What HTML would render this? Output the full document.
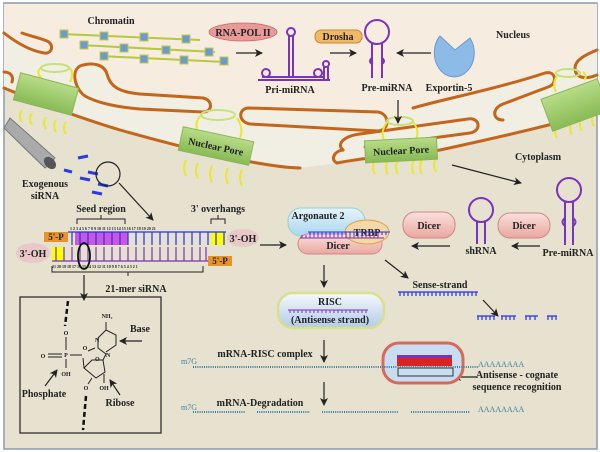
<!DOCTYPE html>
<html><head><meta charset="utf-8"><style>
html,body{margin:0;padding:0;background:#fff}
svg{display:block}
text{font-family:"Liberation Serif",serif;font-weight:bold;fill:#222}
</style></head><body>
<svg width="600" height="452" viewBox="0 0 600 452" xmlns="http://www.w3.org/2000/svg">
<defs>
<marker id="ar" markerWidth="8" markerHeight="8" refX="7" refY="4" orient="auto" markerUnits="userSpaceOnUse"><path d="M0,0 L8,4 L0,8 L2,4 Z" fill="#222"/></marker>
<linearGradient id="ago" x1="0" y1="0" x2="0" y2="1"><stop offset="0" stop-color="#e6f4fb"/><stop offset="1" stop-color="#a9d6ee"/></linearGradient>
<linearGradient id="pk" x1="0" y1="0" x2="0" y2="1"><stop offset="0" stop-color="#fbe0dc"/><stop offset="1" stop-color="#e9a7a0"/></linearGradient>
<linearGradient id="risc" x1="0" y1="0" x2="0" y2="1"><stop offset="0" stop-color="#f4f8fc"/><stop offset="1" stop-color="#b4cbe8"/></linearGradient>
<linearGradient id="gr" x1="0" y1="0" x2="0" y2="1"><stop offset="0" stop-color="#b8dc88"/><stop offset="1" stop-color="#88bb55"/></linearGradient>
</defs>
<rect x="0" y="0" width="600" height="452" fill="#fff"/>
<rect x="4" y="3" width="593" height="446" fill="#e6e2cf" stroke="#8a9bb0" stroke-width="1.5"/>
<!-- envelope band -->
<path d="M4,4 L597,4 L597,112 C560,123 500,137 440,150 C400,155 367,157 337,163 L300,168 C260,167 180,147 120,130 C80,118 40,103 4,88 Z" fill="#f1eee4"/>
<!-- nucleus -->
<path d="M4,4 L597,4 L597,50 C585,52 560,66 548,72 L470,95 C440,100 420,104 410,110 L395,118 L380,112 L300,110 L250,108 L212,105 L203,98 L140,94 C118,92 110,86 107,74 C104,64 92,62 80,66 C60,62 40,55 4,32 Z" fill="#f7ece0"/>
<!-- membranes -->
<g fill="none" stroke="#c4651c" stroke-width="3" stroke-linecap="round">
<path d="M4,33 C18,44 32,51 44,53 C53,54 54,44 47,41 C40,38 30,36 22,33"/>
<path d="M80,66 C92,62 104,64 107,74 C110,86 118,92 140,94 L203,98 C213,100 213,112 203,112 L140,109 C115,107 95,102 85,96 C76,90 70,72 80,66 Z"/>
<path d="M4,72 C10,72 14,76 12,82"/>
<path d="M248,108 L378,112 C390,114 390,130 378,131 L250,124 C238,122 238,109 248,108 Z"/>
<path d="M413,108 C440,100 500,88 545,73 C556,70 558,84 548,87 L503,104 C492,108 492,120 503,120"/>
<path d="M343,150 C336,144 344,136 360,134 L468,119 C480,117 482,131 470,133 L365,147"/>
<path d="M597,50 C585,55 575,60 575,68 C575,78 585,80 597,75"/>
<path d="M4,88 C40,103 80,118 120,130 C180,147 260,167 300,168"/>
<path d="M337,163 C367,157 400,155 440,150 C500,137 560,123 597,112"/>
<path d="M337,163 C330,160 334,151 343,150"/>
</g>
<!-- nuclear pores: tentacles -->
<g stroke="#e8e830" stroke-width="2" fill="none">
<path d="M22,110 q-4,6 0,12"/><path d="M32,113 q-4,6 0,12"/><path d="M46,117 q-4,6 0,12"/><path d="M56,120 q-4,6 0,12"/><path d="M66,122 q-4,6 0,12"/>
<path d="M42,78 q-6,-4 -2,-10"/><path d="M70,82 q4,-8 0,-14"/>
<path d="M186,160 q-4,8 0,16"/><path d="M198,163 q-4,8 0,16"/><path d="M212,166 q-4,8 0,16"/><path d="M228,168 q-4,8 0,16"/><path d="M242,170 q-4,8 0,16"/>
<path d="M198,132 q-4,-8 2,-16"/><path d="M240,138 q4,-10 -3,-20"/>
<path d="M375,160 q-4,7 0,14"/><path d="M388,160 q-4,7 0,14"/><path d="M398,160 q-4,7 0,14"/><path d="M414,160 q-4,7 0,14"/><path d="M422,160 q-4,7 0,14"/><path d="M436,158 q-4,7 0,14"/>
<path d="M384,140 q-4,-8 3,-18"/><path d="M416,139 q4,-8 -3,-17"/>
<path d="M557,124 q-4,7 0,14"/><path d="M572,120 q-4,7 0,14"/><path d="M582,117 q-4,7 0,14"/><path d="M594,112 q-4,7 0,14"/>
<path d="M556,92 q-4,-8 1,-16"/><path d="M584,80 q4,-4 -1,-8"/>
</g>
<g stroke="#c8e07a" stroke-width="2" fill="none">
<ellipse cx="55" cy="68" rx="14" ry="4"/>
<ellipse cx="218" cy="115" rx="17" ry="5"/>
<ellipse cx="400" cy="121" rx="13" ry="4"/>
<ellipse cx="568" cy="73" rx="12" ry="4"/>
</g>
<g stroke="#8db45a" stroke-width="1" fill="url(#gr)">
<rect x="16" y="80" width="60" height="28" transform="rotate(15 46 94)"/>
<rect x="180" y="134" width="72" height="24" transform="rotate(12 216 146)"/>
<rect x="365" y="139" width="72" height="22" transform="rotate(-3 401 150)"/>
<rect x="545" y="88" width="60" height="34" transform="rotate(-20 575 105)"/>
</g>
<text x="216" y="150" font-size="10" transform="rotate(12 216 146)" text-anchor="middle">Nuclear Pore</text>
<text x="401" y="154" font-size="10" transform="rotate(-3 401 150)" text-anchor="middle">Nuclear Pore</text>
<!-- chromatin -->
<g stroke="#b5c93a" stroke-width="2" fill="none">
<path d="M62,34 L200,40"/><path d="M80,45 L215,52"/><path d="M100,56 L225,62"/>
</g>
<g fill="#6a9ad0" stroke="#c9c940" stroke-width="1">
<rect x="60" y="30" width="8" height="8"/><rect x="100" y="32" width="8" height="8"/><rect x="140" y="33" width="8" height="8"/><rect x="182" y="35" width="8" height="8"/>
<rect x="80" y="41" width="8" height="8"/><rect x="120" y="44" width="8" height="8"/><rect x="162" y="46" width="8" height="8"/><rect x="205" y="48" width="8" height="8"/>
<rect x="100" y="52" width="8" height="8"/><rect x="140" y="55" width="8" height="8"/><rect x="180" y="56" width="8" height="8"/><rect x="220" y="57" width="8" height="8"/>
</g>
<text x="111" y="24" font-size="10" text-anchor="middle">Chromatin</text>
<ellipse cx="243" cy="32" rx="34" ry="9" fill="#e89a9a" stroke="#c66" stroke-width="0.8"/>
<text x="243" y="36" font-size="10" text-anchor="middle" fill="#333">RNA-POL II</text>
<rect x="315" y="30" width="47" height="13" rx="6" fill="#f0b868" stroke="#c88830"/>
<text x="338" y="40" font-size="10" text-anchor="middle">Drosha</text>
<!-- pri-miRNA -->
<g stroke="#7a33bb" stroke-width="2" fill="none">
<circle cx="291" cy="32" r="4"/><path d="M289,36 L289,76 M293,36 L293,76 M258,80 L330,80 M262,77 L324,77"/>
<circle cx="266" cy="73" r="4"/><circle cx="318" cy="73" r="4"/><circle cx="326" cy="64" r="3"/><path d="M324,67 L324,80 M328,67 L328,80"/>
</g>
<!-- pre-miRNA -->
<g stroke="#7a33bb" stroke-width="2" fill="none">
<circle cx="377" cy="32" r="12"/><path d="M372,43 L372,78 M382,43 L382,78 M372,58 q-4,3 0,6 M382,58 q4,3 0,6"/>
</g>
<path d="M470,38 A20,24 0 1 1 440,36 L455,50 Z" fill="#8cbbe8" stroke="#6a9ad0"/>
<text x="513" y="38" font-size="10" text-anchor="middle">Nucleus</text>
<text x="290" y="93" font-size="10" text-anchor="middle">Pri-miRNA</text>
<text x="387" y="91" font-size="10" text-anchor="middle">Pre-miRNA</text>
<text x="449" y="91" font-size="10" text-anchor="middle">Exportin-5</text>
<g stroke="#222" stroke-width="1.2" fill="none" marker-end="url(#ar)">
<line x1="236" y1="53" x2="262" y2="53"/><line x1="330" y1="53" x2="356" y2="53"/><line x1="431" y1="53" x2="397" y2="53"/>
<line x1="398" y1="100" x2="398" y2="123"/><line x1="452" y1="165" x2="521" y2="183"/>
<line x1="119" y1="183" x2="153" y2="220"/><line x1="260" y1="245" x2="286" y2="245"/>
<line x1="450" y1="246" x2="412" y2="246"/><line x1="540" y1="246" x2="512" y2="246"/>
<line x1="324" y1="265" x2="324" y2="287"/><line x1="385" y1="260" x2="408" y2="278"/>
<line x1="483" y1="300" x2="498" y2="316"/><line x1="324" y1="340" x2="324" y2="362"/>
<line x1="324" y1="382" x2="324" y2="405"/><line x1="477" y1="377" x2="454" y2="377"/>
<line x1="84" y1="275" x2="84" y2="300"/>
<line x1="142" y1="341" x2="120" y2="341"/><line x1="45" y1="386" x2="57" y2="370"/><line x1="120" y1="395" x2="110" y2="380"/>
</g>
<text x="538" y="160" font-size="10" text-anchor="middle">Cytoplasm</text>
<!-- needle -->
<path d="M4,128 L45,168 L55,158 L10,118 Z" fill="#aaa" stroke="#777"/>
<ellipse cx="50" cy="163" rx="5" ry="7" fill="#555" transform="rotate(-45 50 163)"/>
<g stroke="#2a3be0" stroke-width="3">
<line x1="78" y1="158" x2="88" y2="156"/><line x1="64" y1="170" x2="72" y2="172"/><line x1="88" y1="172" x2="98" y2="174"/><line x1="80" y1="178" x2="90" y2="180"/><line x1="98" y1="184" x2="108" y2="186"/><line x1="92" y1="192" x2="102" y2="194"/>
</g>
<circle cx="108" cy="174" r="12" fill="none" stroke="#222" stroke-width="1.2"/>
<text x="45" y="187" font-size="10" text-anchor="middle">Exogenous</text>
<text x="45" y="199" font-size="10" text-anchor="middle">siRNA</text>
<text x="101" y="212" font-size="10" text-anchor="middle">Seed region</text>
<text x="218" y="212" font-size="10" text-anchor="middle">3' overhangs</text>
<path d="M77,224 L77,219 L125,219 L125,224 M101,219 L101,215" stroke="#222" fill="none"/>
<path d="M211,224 L211,219 L225,219 L225,224 M218,219 L218,215" stroke="#222" fill="none"/>
<!-- siRNA duplex -->
<g font-size="4" fill="#333"><text x="70" y="230">1 2 3 4 5 6 7 8 9 10 11 12 13 14 15 16 17 18 19 20 21</text><text x="52" y="268">21 20 19 18 17 16 15 14 13 12 11 10 9 8 7 6 5 4 3 2 1</text></g>
<rect x="75" y="232" width="53" height="13" fill="#cc55dd"/>
<rect x="211" y="232" width="14" height="13" fill="#ffff00"/>
<rect x="52" y="247" width="12" height="14" fill="#ffff00"/>
<g stroke="#2233ee" stroke-width="1.2">
<line x1="68" y1="232" x2="226" y2="232"/>
<path d="M72,232 v13 M80,232 v13 M88,232 v13 M96,232 v13 M104,232 v13 M112,232 v13 M120,232 v13 M128,232 v13 M136,232 v13 M144,232 v13 M152,232 v13 M160,232 v13 M168,232 v13 M176,232 v13 M184,232 v13 M192,232 v13 M200,232 v13 M208,232 v13 M216,232 v13 M224,232 v13"/>
</g>
<g stroke="#7a33bb" stroke-width="1.2">
<line x1="52" y1="261" x2="208" y2="261"/>
<path d="M56,247 v14 M64,247 v14 M72,247 v14 M80,247 v14 M88,247 v14 M96,247 v14 M104,247 v14 M112,247 v14 M120,247 v14 M128,247 v14 M136,247 v14 M144,247 v14 M152,247 v14 M160,247 v14 M168,247 v14 M176,247 v14 M184,247 v14 M192,247 v14 M200,247 v14 M206,247 v14"/>
</g>
<rect x="44" y="232" width="24" height="10" fill="#e8922a"/><text x="56" y="240" font-size="9" text-anchor="middle">5'-P</text>
<rect x="208" y="256" width="24" height="10" fill="#e8922a"/><text x="220" y="264" font-size="9" text-anchor="middle">5'-P</text>
<ellipse cx="243" cy="238" rx="16" ry="9" fill="#e8c8c8"/><text x="243" y="242" font-size="10" text-anchor="middle">3'-OH</text>
<ellipse cx="33" cy="253" rx="17" ry="10" fill="#e8c8c8"/><text x="33" y="257" font-size="10" text-anchor="middle">3'-OH</text>
<ellipse cx="84" cy="256" rx="6" ry="13" fill="none" stroke="#111" stroke-width="1.8"/>
<path d="M52,266 L52,272 L203,272 L203,266 M128,272 L128,276" stroke="#222" fill="none"/>
<text x="136" y="292" font-size="10" text-anchor="middle">21-mer siRNA</text>
<!-- chemistry box -->
<rect x="20" y="297" width="141" height="136" fill="none" stroke="#222" stroke-width="1.2"/>
<g stroke="#111" stroke-width="2.5" stroke-dasharray="5,3"><line x1="68" y1="301" x2="65" y2="326"/><line x1="86" y1="396" x2="83" y2="430"/></g>
<g stroke="#222" stroke-width="1" fill="none">
<line x1="66" y1="337" x2="66" y2="350"/><line x1="48" y1="354" x2="62" y2="354"/><line x1="48" y1="357" x2="62" y2="357"/>
<line x1="66" y1="359" x2="66" y2="368"/><line x1="70" y1="355" x2="82" y2="355"/><line x1="83" y1="358" x2="84" y2="368"/>
<path d="M84,368 L92,360 L103,360 L105,372 L96,378 Z"/><line x1="92" y1="378" x2="88" y2="384"/><line x1="104" y1="374" x2="104" y2="383"/>
<path d="M103,360 L106,354 M106,354 L98,348 L98,338 L106,330 L116,335 L116,345 L106,352 M95,348 L88,351 M106,330 L106,322"/>
</g>
<g font-size="6" font-family="Liberation Sans,sans-serif">
<text x="66" y="335" fill="#d22" text-anchor="middle">O</text><text x="66" y="357" fill="#e08020" text-anchor="middle">P</text>
<text x="43" y="358" fill="#d22" text-anchor="middle">O</text><text x="66" y="376" fill="#d22" text-anchor="middle">OH</text>
<text x="95" y="361" fill="#d22">O</text><text x="86" y="390" fill="#d22" text-anchor="middle">O</text>
<text x="104" y="390" fill="#d22" text-anchor="middle">OH</text><text x="85" y="350" fill="#d22" text-anchor="middle">O</text>
<text x="107" y="318" fill="#36c" text-anchor="middle">NH₂</text><text x="95" y="342" fill="#36c">N</text><text x="106" y="357" fill="#36c">N</text>
</g>
<text x="140" y="332" font-size="10" text-anchor="middle">Base</text>
<text x="44" y="397" font-size="10" text-anchor="middle">Phosphate</text>
<text x="120" y="406" font-size="10" text-anchor="middle">Ribose</text>
<!-- Ago/Dicer complex -->
<rect x="288" y="208" width="77" height="28" rx="13" fill="url(#ago)" stroke="#9cc"/>
<text x="318" y="219" font-size="10" text-anchor="middle">Argonaute 2</text>
<rect x="298" y="234" width="84" height="20" rx="10" fill="url(#pk)" stroke="#c88"/>
<text x="338" y="249" font-size="10" text-anchor="middle">Dicer</text>
<ellipse cx="367" cy="232" rx="22" ry="12" fill="#f6d7a8" stroke="#d9a050"/>
<text x="367" y="236" font-size="10" text-anchor="middle">TRBP</text>
<g stroke="#2233ee" stroke-width="1"><line x1="308" y1="232" x2="390" y2="232"/><path d="M310,232v3M314,232v3M318,232v3M322,232v3M326,232v3M330,232v3M334,232v3M338,232v3M342,232v3M346,232v3M350,232v3M354,232v3M358,232v3M362,232v3M366,232v3M370,232v3M374,232v3M378,232v3M382,232v3M386,232v3"/></g>
<g stroke="#7a33bb" stroke-width="1"><line x1="300" y1="238" x2="384" y2="238"/><path d="M302,235v3M306,235v3M310,235v3M314,235v3M318,235v3M322,235v3M326,235v3M330,235v3M334,235v3M338,235v3M342,235v3M346,235v3M350,235v3M354,235v3M358,235v3M362,235v3M366,235v3M370,235v3M374,235v3M378,235v3"/></g>
<rect x="403" y="212" width="52" height="26" rx="12" fill="url(#pk)" stroke="#c88"/><text x="429" y="229" font-size="10" text-anchor="middle">Dicer</text>
<rect x="498" y="213" width="52" height="25" rx="12" fill="url(#pk)" stroke="#c88"/><text x="524" y="229" font-size="10" text-anchor="middle">Dicer</text>
<g stroke="#7a33bb" stroke-width="2" fill="none">
<circle cx="481" cy="210" r="12"/><path d="M477,221 L477,244 M485,221 L485,244"/>
<circle cx="569" cy="190" r="12"/><path d="M565,201 L565,245 M573,201 L573,245 M565,218 q-5,4 0,8 M573,218 q5,4 0,8"/>
</g>
<text x="481" y="254" font-size="10" text-anchor="middle">shRNA</text>
<text x="568" y="256" font-size="10" text-anchor="middle">Pre-miRNA</text>
<text x="440" y="288" font-size="10" text-anchor="middle">Sense-strand</text>
<g stroke="#2233ee" stroke-width="1.2"><line x1="398" y1="292" x2="478" y2="292"/><path d="M400,292v4M404,292v4M408,292v4M412,292v4M416,292v4M420,292v4M424,292v4M428,292v4M432,292v4M436,292v4M440,292v4M444,292v4M448,292v4M452,292v4M456,292v4M460,292v4M464,292v4M468,292v4M472,292v4M476,292v4"/>
<path d="M477,316h18M501,316h15M525,316h13M547,316h10M478,316v4M482,316v4M486,316v4M490,316v4M494,316v4M502,316v4M506,316v4M510,316v4M514,316v4M526,316v4M530,316v4M535,316v4M548,316v4M552,316v4M556,316v4"/></g>
<!-- RISC -->
<rect x="278" y="293" width="106" height="35" rx="15" fill="url(#risc)" stroke="#d8e08a" stroke-width="2.5"/>
<text x="330" y="305" font-size="10" text-anchor="middle">RISC</text>
<g stroke="#7a33bb" stroke-width="1"><line x1="288" y1="310" x2="368" y2="310"/><path d="M290,310v3M294,310v3M298,310v3M302,310v3M306,310v3M310,310v3M314,310v3M318,310v3M322,310v3M326,310v3M330,310v3M334,310v3M338,310v3M342,310v3M346,310v3M350,310v3M354,310v3M358,310v3M362,310v3M366,310v3"/></g>
<text x="330" y="323" font-size="10" text-anchor="middle">(Antisense strand)</text>
<!-- mRNA -->
<text x="265" y="357" font-size="10" text-anchor="middle">mRNA-RISC complex</text>
<rect x="383" y="343" width="80" height="40" rx="16" fill="#c8ddf2" stroke="#d66a5a" stroke-width="3"/>
<rect x="397" y="358" width="55" height="8" fill="#dd2222"/><rect x="397" y="355" width="55" height="3" fill="#7a33bb"/>
<rect x="398" y="368" width="55" height="8" fill="none" stroke="#333"/>
<g font-size="8"><text x="181" y="364" style="fill:#3a7fa0;font-weight:normal">m7G</text><text x="181" y="410" style="fill:#3a7fa0;font-weight:normal">m7G</text><text x="478" y="367" style="fill:#3a7fa0;font-weight:normal">AAAAAAAA</text><text x="478" y="412" style="fill:#3a7fa0;font-weight:normal">AAAAAAAA</text></g>
<g stroke="#3a7fa0" stroke-width="2" stroke-dasharray="1,1.2"><line x1="193" y1="367" x2="478" y2="367"/><line x1="193" y1="412" x2="245" y2="412"/><line x1="257" y1="412" x2="310" y2="412"/><line x1="322" y1="412" x2="398" y2="412"/><line x1="411" y1="412" x2="470" y2="412"/></g>
<text x="517" y="378" font-size="10" text-anchor="middle">Antisense - cognate</text>
<text x="517" y="390" font-size="10" text-anchor="middle">sequence recognition</text>
<text x="260" y="406" font-size="10" text-anchor="middle">mRNA-Degradation</text>
</svg>
</body></html>
